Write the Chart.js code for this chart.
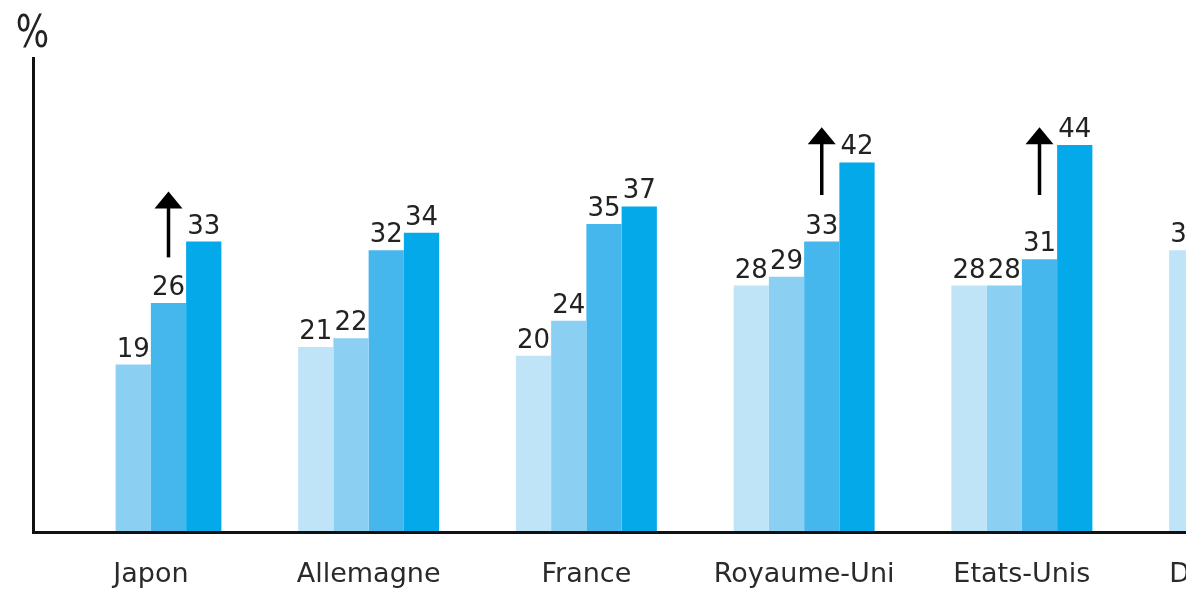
<!DOCTYPE html>
<html>
<head>
<meta charset="utf-8">
<script src="https://cdn.jsdelivr.net/npm/chart.js@4.4.1/dist/chart.umd.min.js"></script>
<style>
  html, body { margin: 0; padding: 0; background: #fff; overflow: hidden; }
  #wrap { width: 1360px; height: 650px; }
</style>
</head>
<body>
<div id="wrap"><canvas id="chart" width="1360" height="650"></canvas></div>
<script>
// Données (en %)
const categories = ['Japon', 'Allemagne', 'France', 'Royaume-Uni', 'Etats-Unis', 'Danemark'];
const serie1 = [null, 21, 20, 28, 28, 32];
const serie2 = [19, 22, 24, 29, 28, null];
const serie3 = [26, 32, 35, 33, 31, null];
const serie4 = [33, 34, 37, 42, 44, null];

// Flèches de hausse au-dessus de la 3e barre
const arrowCategories = ['Japon', 'Royaume-Uni', 'Etats-Unis'];
const arrowFrom = [31.2, 38.3, 38.3];
const arrowTo = [38.7, 46, 46];

const colors = ['#bfe4f8', '#8bcff3', '#46b7ed', '#04a9e9'];
const textColor = '#222';

//Axes dessinés à la main (trait noir épais)
const axisLines = {
  id: 'axisLines',
  afterDatasetsDraw(chart) {
    const {ctx, chartArea} = chart;
    const x0 = chartArea.left - 8.5;
    ctx.save();
    ctx.strokeStyle = '#111';
    ctx.lineWidth = 3;
    ctx.beginPath();
    ctx.moveTo(x0, chartArea.top);
    ctx.lineTo(x0, chartArea.bottom + 2.5);
    ctx.moveTo(x0 - 1.5, chartArea.bottom + 1);
    ctx.lineTo(chart.width, chartArea.bottom + 1);
    ctx.stroke();

    // symbole % en haut de l'axe
    ctx.fillStyle = textColor;
    ctx.font = '44px "DejaVu Sans"';
    ctx.textAlign = 'center';
    ctx.textBaseline = 'alphabetic';
    ctx.translate(x0 - 1, chartArea.top - 10);
    ctx.scale(0.8, 1);
    ctx.fillText('%', 0, 0);
    ctx.restore();
  }
};

//Valeurs au-dessus des barres
const valueLabels = {
  id: 'valueLabels',
  afterDatasetsDraw(chart) {
    const ctx = chart.ctx;
    ctx.save();
    ctx.font = '26px "DejaVu Sans"';
    ctx.fillStyle = textColor;
    ctx.textAlign = 'center';
    ctx.textBaseline = 'alphabetic';
    chart.data.datasets.forEach((ds, i) => {
      chart.getDatasetMeta(i).data.forEach((bar, j) => {
        const v = ds.data[j];
        if (v === null || v === undefined) return;
        ctx.fillText(String(v), bar.x, bar.y - 8);
      });
    });
    ctx.restore();
  }
};

//Flèches verticales
const arrows = {
  id: 'arrows',
  afterDatasetsDraw(chart) {
    const ctx = chart.ctx;
    const meta = chart.getDatasetMeta(2);
    const yScale = chart.scales.y;
    ctx.save();
    ctx.fillStyle = '#000';
    ctx.strokeStyle = '#000';
    ctx.lineWidth = 3.5;
    arrowCategories.forEach((cat, k) => {
      const bar = meta.data[categories.indexOf(cat)];
      const x = bar.x;
      const yTail = yScale.getPixelForValue(arrowFrom[k]);
      const yHead = yScale.getPixelForValue(arrowTo[k]);
      ctx.beginPath();
      ctx.moveTo(x, yTail);
      ctx.lineTo(x, yHead + 14);
      ctx.stroke();
      ctx.beginPath();
      ctx.moveTo(x, yHead);
      ctx.lineTo(x - 14, yHead + 17);
      ctx.lineTo(x + 14, yHead + 17);
      ctx.closePath();
      ctx.fill();
    });
    ctx.restore();
  }
};

const series = [serie1, serie2, serie3, serie4];

new Chart(document.getElementById('chart'), {
  type: 'bar',
  data: {
    labels: categories,
    datasets: series.map((data, i) => ({
      label: 'Série ' + (i + 1),
      data: data,
      backgroundColor: colors[i],
      borderWidth: 0
    }))
  },
  options: {
    responsive: false,
    animation: false,
    layout: {
      padding: {left: 42, right: 11.5, top: 57, bottom: 32}
    },
    datasets: {
      bar: {categoryPercentage: 0.6475, barPercentage: 1}
    },
    plugins: {
      legend: {display: false},
      tooltip: {enabled: false}
    },
    scales: {
      x: {
        grid: {display: false, drawTicks: false},
        border: {display: false},
        ticks: {
          padding: 27,
          autoSkip: false,
          maxRotation: 0,
          color: '#2a2a2a',
          font: {family: 'DejaVu Sans', size: 27}
        }
      },
      y: {display: false, min: 0, max: 54}
    }
  },
  plugins: [axisLines, valueLabels, arrows]
});
</script>
</body>
</html>
